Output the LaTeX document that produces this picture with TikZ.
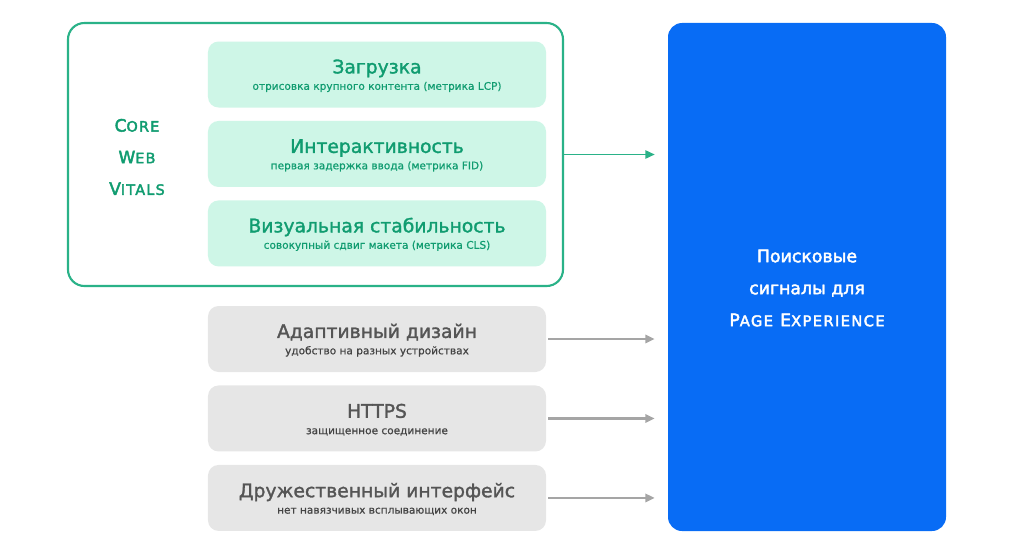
\documentclass[tikz,border=0pt]{standalone}
\usepackage{fontspec}
\setmainfont{DejaVu Sans}
\newfontfamily\ttlfont{DejaVu Sans}[FakeBold=1.6]
\newfontfamily\subfont{DejaVu Sans}[FakeBold=0.6]
\newfontfamily\pefont{DejaVu Sans}[FakeBold=2.4]
\newfontfamily\capfont{DejaVu Sans}[FakeBold=2.6,LetterSpace=9]
\usepackage{tikz}
\usetikzlibrary{arrows.meta,positioning,calc}
\definecolor{CwvGreen}{RGB}{42,178,136}
\definecolor{CwvMint}{RGB}{206,246,231}
\definecolor{CwvText}{RGB}{16,156,112}
\definecolor{SigGray}{RGB}{230,230,230}
\definecolor{SigText}{RGB}{85,85,85}
\definecolor{SubText}{RGB}{68,68,68}
\definecolor{ArrGray}{RGB}{165,165,165}
\definecolor{PeBlue}{RGB}{8,108,245}
% fake small caps
\newcommand{\cwvcaps}[2]{#1{\fontsize{12.2pt}{12pt}\selectfont #2}}
\newcommand{\pecaps}[2]{#1{\fontsize{12.6pt}{12pt}\selectfont #2}}
\newcommand{\ttl}[1]{\rule{0pt}{14pt}{\ttlfont\fontsize{16pt}{18pt}\selectfont #1}}
\newcommand{\sub}[1]{{\subfont\fontsize{9pt}{10pt}\selectfont #1}}
\tikzset{
  cwvframe/.style ={rectangle, rounded corners=14pt, draw=CwvGreen, line width=1.8pt,
                    fill=white, minimum width=14.85cm, minimum height=7.89cm, inner sep=0pt},
  mbox/.style     ={rectangle, rounded corners=9pt, fill=CwvMint, text=CwvText, align=center,
                    minimum width=10.14cm, minimum height=1.98cm, inner sep=0pt},
  gbox/.style     ={rectangle, rounded corners=9pt, fill=SigGray, text=SigText, align=center,
                    minimum width=10.14cm, minimum height=1.98cm, inner sep=0pt},
  pebox/.style    ={rectangle, rounded corners=12pt, fill=PeBlue,
                    minimum width=8.34cm, minimum height=15.24cm, inner sep=0pt},
  petext/.style   ={text=white, align=center, font=\pefont\fontsize{14.8pt}{27.3pt}\selectfont},
  cwvlabel/.style ={text=CwvText, align=center, font=\capfont\fontsize{14.5pt}{27pt}\selectfont},
  arrgreen/.style ={-{Triangle[length=8pt,width=7pt]}, draw=CwvGreen, line width=1.6pt},
  arrgray/.style  ={-{Triangle[length=8pt,width=7pt]}, draw=ArrGray, line width=2pt},
}

\begin{document}
\begin{tikzpicture}[x=0.03cm,y=-0.03cm,node distance=0.39cm]
  \useasboundingbox (0,0) rectangle (1018,555);
  \node[cwvframe] (cwv) at (315.5,154.5) {};
  \node[mbox] (m1) at (377,74.5) {\ttl{Загрузка}\\[2pt]\sub{отрисовка крупного контента (метрика LCP)}};
  \node[mbox,below=of m1] (m2) {\ttl{Интерактивность}\\[2pt]\sub{первая задержка ввода (метрика FID)}};
  \node[mbox,below=of m2] (m3) {\ttl{Визуальная стабильность}\\[2pt]\sub{совокупный сдвиг макета (метрика CLS)}};
  \node[cwvlabel] (cwvtxt) at (137,157) {\cwvcaps{C}{ORE}\\\cwvcaps{W}{EB}\\\cwvcaps{V}{ITALS}};
  \node[gbox] (g1) at (377,339) {\ttl{Адаптивный дизайн}\\[2pt]{\color{SubText}\sub{удобство на разных устройствах}}};
  \node[gbox,below=of g1] (g2) {\ttl{HTTPS}\\[2pt]{\color{SubText}\sub{защищенное соединение}}};
  \node[gbox,below=of g2] (g3) {\ttl{Дружественный интерфейс}\\[2pt]{\color{SubText}\sub{нет навязчивых всплывающих окон}}};
  \node[pebox] (pe) at (807,277) {};
  \node[petext] (petxt) at (807,288) {Поисковые\\сигналы для\\{\capfont\pecaps{P}{AGE} \pecaps{E}{XPERIENCE}}};
  \draw[arrgreen,shorten >=0.39cm] (cwv.east) -- (cwv.east -| pe.west);
  \foreach \g in {g1,g2,g3}{\draw[arrgray,shorten <=0.06cm,shorten >=0.39cm] (\g.east) -- (\g.east -| pe.west);}
\end{tikzpicture}
\end{document}
